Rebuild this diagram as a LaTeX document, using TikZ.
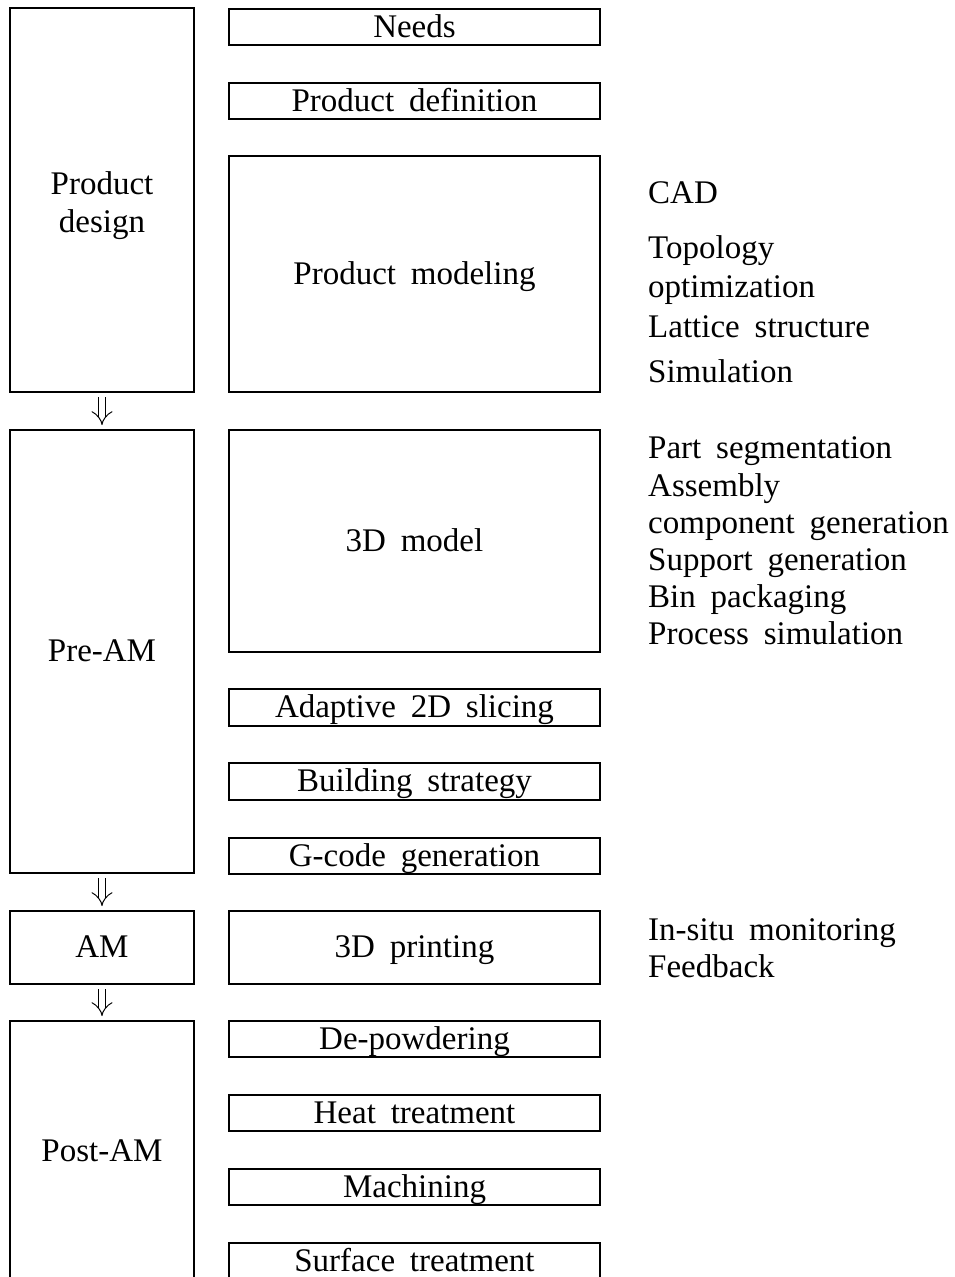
\documentclass[tikz,border=0pt]{standalone}
\usepackage{fontspec}
\setmainfont{Liberation Serif}
\usetikzlibrary{arrows.meta}

% serif labels with generous word spacing
\newcommand\lblfont{\fontsize{33}{38}\selectfont\spaceskip=0.45em plus 0.1em minus 0.05em\relax}

\begin{document}
\begin{tikzpicture}[x=1pt,y=-1pt,
  every node/.style={font=\lblfont},
  frame/.style={draw, line width=1.1pt, inner sep=0pt, outer sep=0pt, align=center},
  stage/.style={frame, minimum width=184pt},
  task/.style={frame, minimum width=371pt, text height=28pt, text depth=8pt},
  item/.style={anchor=base west, inner sep=0pt},
  flow/.style={double, double distance=6.5pt, line width=1pt,
    -{Implies[length=10pt, width=19pt]}, shorten <=5pt, shorten >=5pt}]
\useasboundingbox (0,0) rectangle (954,1277);
\clip (0,0) rectangle (954,1277);

% left column: stages
\node[stage, minimum height=384pt] (pd) at (102,200)
  {\raisebox{-6pt}[\height][\depth]{\begin{tabular}{@{}c@{}}Product\\design\end{tabular}}};
\node[stage, minimum height=443pt, text height=28pt, text depth=8pt] (pre) at (102,651.5) {Pre-AM};
\node[stage, minimum height=73pt, text height=28pt, text depth=8pt] (am) at (102,947.5) {AM};
\node[stage, minimum height=260pt, text height=28pt, text depth=8pt] (post) at (102,1151) {Post-AM};

% arrows between stages
\draw[flow] (pd.south) -- (pre.north);
\draw[flow] (pre.south) -- (am.north);
\draw[flow] (am.south) -- (post.north);

% middle column: tasks
\node[task, minimum height=36pt] (needs) at (414.5,27) {Needs};
\node[task, minimum height=36pt] (def) at (414.5,101) {Product definition};
\node[task, minimum height=236pt] (mod) at (414.5,274) {Product modeling};
\node[task, minimum height=222pt] (model) at (414.5,541) {3D model};
\node[task, minimum height=37pt] (slice) at (414.5,707.5) {Adaptive 2D slicing};
\node[task, minimum height=37pt] (build) at (414.5,781.5) {Building strategy};
\node[task, minimum height=36pt] (gcode) at (414.5,856) {G-code generation};
\node[task, minimum height=73pt] (print) at (414.5,947.5) {3D printing};
\node[task, minimum height=36pt] (depow) at (414.5,1039) {De-powdering};
\node[task, minimum height=36pt] (heat) at (414.5,1113) {Heat treatment};
\node[task, minimum height=36pt] (mach) at (414.5,1187) {Machining};
\node[task, minimum height=37pt] (surf) at (414.5,1261.5) {Surface treatment};

% right column: methods
\node[item] (cad) at (648,203) {CAD};
\node[item] (topo) at (648,258) {Topology};
\node[item] (opti) at (648,297) {optimization};
\node[item] (latt) at (648,337) {Lattice structure};
\node[item] (simu) at (648,382) {Simulation};

\node[item] (seg) at (648,458) {Part segmentation};
\node[item] (asm) at (648,496) {Assembly};
\node[item] (comp) at (648,533) {component generation};
\node[item] (supp) at (648,570) {Support generation};
\node[item] (bin) at (648,607) {Bin packaging};
\node[item] (proc) at (648,644) {Process simulation};

\node[item] (insitu) at (648,940) {In-situ monitoring};
\node[item] (feed) at (648,977) {Feedback};
\end{tikzpicture}
\end{document}
